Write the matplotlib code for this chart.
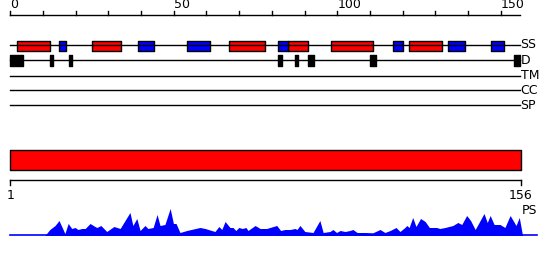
import matplotlib
matplotlib.use("Agg")
import matplotlib.pyplot as plt

# ---------------- data ----------------
seq_len = 156
top_ticks = list(range(0, 151, 10))
top_labels = {0: "0", 50: "50", 100: "100", 150: "150"}
track_names = ["SS", "D", "TM", "CC", "SP"]

ss_helix = [(2, 12), (25, 34), (67, 78), (85, 91), (98, 111), (122, 132)]
ss_strand = [(15, 17), (39, 44), (54, 61), (82, 85), (117, 120), (134, 139), (147, 151)]
disorder = [(0, 4), (12, 13), (18, 19), (82, 83), (87, 88), (91, 93), (110, 112), (154, 156)]

domain = [(1, 156)]
bottom_ticks = [1, 156]

ps_pos = [0, 10.6, 12.1, 13.7, 14.9, 16.7, 17.7, 18.8, 19.8, 20.7, 21.9, 22.9, 24.4, 25.9,
          26.5, 27.7, 29.5, 31.7, 33.6, 36.6, 37.5, 38.7, 39.7, 41.2, 42.1, 43.7, 44.9,
          45.8, 47.3, 48.9, 49.9, 50.7, 51.9, 54.0, 58.0, 59.6, 62.6, 63.8, 64.7, 65.7,
          67.2, 68.1, 69.0, 69.9, 71.0, 72.1, 72.7, 74.9, 76.4, 78.4, 81.5, 82.7, 84.0,
          85.6, 87.1, 87.7, 88.6, 90.1, 92.6, 94.7, 95.7, 97.8, 98.7, 99.8, 100.9, 102.4,
          103.9, 104.8, 106.1, 108.5, 110.9, 113.1, 114.6, 116.2, 118.0, 119.2, 120.7,
          121.3, 122.0, 123.1, 124.1, 125.5, 126.9, 128.2, 130.4, 131.4, 133.0, 135.4,
          136.9, 138.1, 139.6, 140.8, 142.2, 143.4, 144.9, 145.9, 146.8, 148.0, 149.8,
          151.3, 152.9, 153.8, 154.7, 155.7, 156.7]
ps_val = [0, 0, 6, 10, 15, 2, 12, 7, 8, 6, 7, 7, 12, 9,
          8, 10, 4, 9, 7, 23, 10, 17, 5, 10, 7, 8, 21,
          10, 11, 27, 12, 12, 3, 5, 8, 7, 4, 9, 6, 14,
          8, 8, 5, 8, 7, 8, 5, 10, 7, 7, 10, 5, 6,
          6, 7, 6, 10, 4, 3, 15, 3, 4, 6, 3, 5, 4,
          5, 6, 3, 3, 2.7, 6, 3, 5, 8, 4, 8,
          10, 8, 18, 9, 17, 14, 8, 8, 7, 8, 10,
          13, 11, 20, 15, 6, 13, 22, 13, 20, 11, 11,
          8, 20, 15, 10, 18, 0]
ps_base_end = 161

# ---------------- layout ----------------
W, H = 550, 260
fig = plt.figure(figsize=(W / 100, H / 100), dpi=100)

x0_px = 10.3
unit_top = 3.269
unit_bot = (520.7 - 10.3) / 155.0

def xlim_top():
    return (-x0_px / unit_top, (W - x0_px) / unit_top)

def xlim_bot():
    return (1 - x0_px / unit_bot, 1 + (W - x0_px) / unit_bot)

fs = 9

# top tracks axes (y in pixel rows)
ax = fig.add_axes([0, 0, 1, 1])
ax.set_xlim(*xlim_top())
ax.set_ylim(H, 0)
ax.axis("off")

# ruler
ax.plot([0, seq_len], [15.3, 15.3], color="black", lw=1)
for t in top_ticks:
    ax.plot([t, t], [11, 15.3], color="black", lw=1)
for t, lab in top_labels.items():
    ax.text(t, 11.5, lab, ha="left", va="bottom", fontsize=fs, color="black")

track_y = [45, 60.3, 75.7, 90.3, 105.3]
for name, y in zip(track_names, track_y):
    ax.plot([0, seq_len], [y, y], color="black", lw=1)
    ax.text(seq_len + 0.1, y, name, ha="left", va="center", fontsize=fs, color="black")

ax.broken_barh([(s, e - s) for s, e in ss_helix], (40.5, 10), facecolor="#ff0000",
               edgecolor="black", lw=1)
ax.broken_barh([(s, e - s) for s, e in ss_strand], (40.5, 10), facecolor="#0000ff",
               edgecolor="black", lw=1)
ax.broken_barh([(s, e - s) for s, e in disorder], (55, 10.7), facecolor="black",
               edgecolor="black", lw=1)

# bottom domain section
axb = fig.add_axes([0, 0, 1, 1])
axb.set_xlim(*xlim_bot())
axb.set_ylim(H, 0)
axb.axis("off")
axb.patch.set_alpha(0)
axb.broken_barh([(s, e - s) for s, e in domain], (150.3, 20), facecolor="#ff0000",
                edgecolor="black", lw=1)
axb.plot([bottom_ticks[0], bottom_ticks[-1]], [180.3, 180.3], color="black", lw=1)
for t in bottom_ticks:
    axb.plot([t, t], [180.3, 185], color="black", lw=1)
    axb.text(t, 189, str(t), ha="center", va="top", fontsize=fs, color="black")
axb.text(bottom_ticks[-1] + 0.2, 210.5, "PS", ha="left", va="center", fontsize=fs,
         color="black")

# PS area
axp = fig.add_axes([0, 24.5 / H, 1, 30 / H])
axp.set_xlim(*xlim_top())
axp.set_ylim(0, 30)
axp.axis("off")
axp.patch.set_alpha(0)
axp.fill_between(ps_pos, ps_val, 0, color="#0000ff", lw=0)
axp.plot([0, ps_base_end], [0.3, 0.3], color="#0000ff", lw=1.2)

fig.savefig("out.png", dpi=100)
